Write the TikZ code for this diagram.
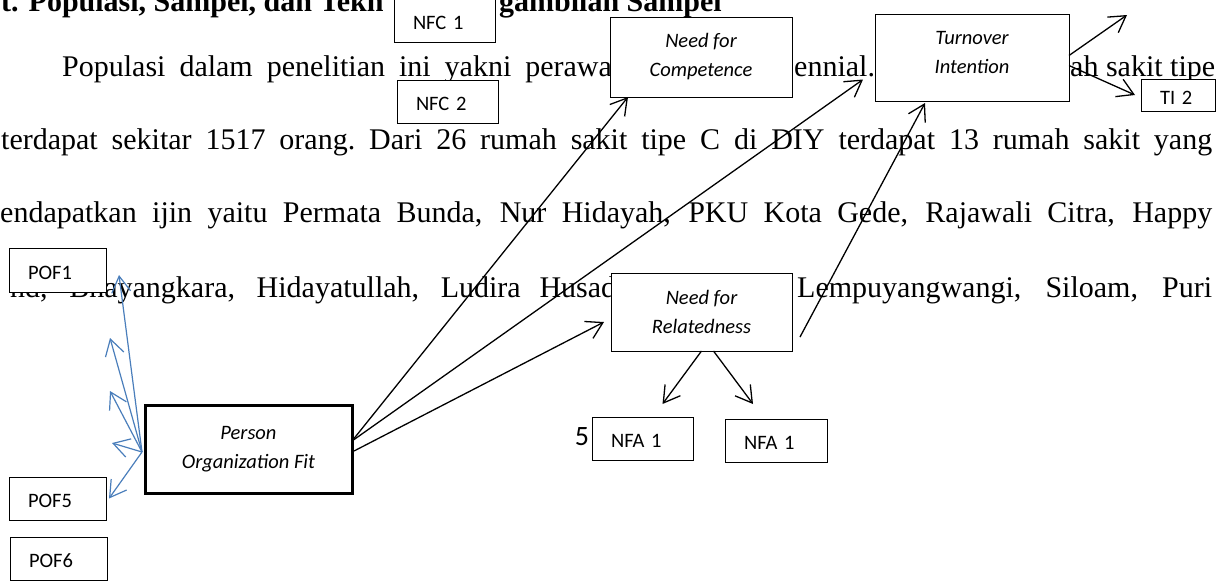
\documentclass[tikz,border=0pt]{standalone}
\usepackage{fontspec}
\setmainfont{Liberation Serif}
\newfontfamily\lblfont{Carlito}
\usetikzlibrary{arrows.meta}
\definecolor{pofblue}{HTML}{4A7EBB}
% one line of body text, spread to a given width
\newcommand\jline[2]{\hbox to #1{\spaceskip=.25em plus 1fil\xspaceskip=.25em plus 1fil\relax #2}}

\begin{document}
\begin{tikzpicture}[x=1pt,y=-1pt,
    body/.style={inner sep=0pt, anchor=base west, font=\fontsize{30}{36}\selectfont},
    head/.style={body, font=\fontsize{30}{36}\selectfont\bfseries},
    smallbox/.style={draw, fill=white, line width=1pt, outer sep=0pt, anchor=north west,
        inner xsep=19pt, inner ysep=0pt, align=left, text height=18pt, text depth=0pt,
        font=\lblfont\fontsize{20.5}{24}\selectfont},
    bigbox/.style={draw, fill=white, line width=1pt, outer sep=0pt, anchor=north west,
        align=center, font=\lblfont\itshape\fontsize{20.5}{29}\selectfont},
    link/.style={-{Straight Barb[length=16pt,width=19pt]}, line width=1.3pt},
    bluelink/.style={link, pofblue, line width=1.2pt}]
    \useasboundingbox (0,0) rectangle (1217,582);

    % page text behind the model
    \node[head] (headA) at (1,11) {t. Populasi, Sampel, dan Tekn};
    \node[head] (headB) at (499,11) {gambilan Sampel};
    \node[body] (lineA) at (62,76) {\jline{558pt}{Populasi dalam penelitian ini yakni perawat}};
    \node[body] (lineB) at (794,76) {ennial.};
    \node[body] (lineC) at (1070,76) {ah sakit tipe};
    \node[body] (lineD) at (1,149) {\jline{1211pt}{terdapat sekitar 1517 orang. Dari 26 rumah sakit tipe C di DIY terdapat 13 rumah sakit yang}};
    \node[body] (lineE) at (0,222) {\jline{1212pt}{endapatkan ijin yaitu Permata Bunda, Nur Hidayah, PKU Kota Gede, Rajawali Citra, Happy}};
    \node[body] (lineF) at (10,297) {\jline{606pt}{nd, Bhayangkara, Hidayatullah, Ludira Husad}};
    \node[body] (lineG) at (797,297) {\jline{415pt}{Lempuyangwangi, Siloam, Puri}};

    % variables
    \node[bigbox, minimum width=182pt, minimum height=80pt] (comp) at (610,17) {Need for\\Competence};
    \node[bigbox, minimum width=194pt, minimum height=87pt, text depth=10pt] (turn) at (875,14) {Turnover\\Intention};
    \node[bigbox, minimum width=181pt, minimum height=78pt] (rel) at (611,273) {Need for\\Relatedness};
    \node[bigbox, line width=3pt, minimum width=207pt, minimum height=88pt] (pof) at (145,405) {Person\\Organization Fit};

    % indicators
    \node[smallbox, text width=63pt, minimum height=43pt] (nfcA) at (394,-1) {NFC 1};
    \node[smallbox, text width=63pt, minimum height=43pt] (nfcB) at (397,80) {NFC 2};
    \node[smallbox, text width=36pt, minimum height=32pt] (tiB) at (1141,79) {TI 2};
    \node[smallbox, text width=63pt, minimum height=43pt] (nfaA) at (592,417) {NFA 1};
    \node[smallbox, text width=64pt, minimum height=43pt] (nfaB) at (725,419) {NFA 1};
    \node[smallbox, text width=59pt, minimum height=44pt] (pofA) at (9,248) {POF1};
    \node[smallbox, text width=59pt, minimum height=43pt] (pofE) at (9,477) {POF5};
    \node[smallbox, text width=59pt, minimum height=43pt] (pofF) at (10,537) {POF6};
    \node[font=\lblfont\fontsize{28}{30}\selectfont, inner sep=0pt] (five) at (582,437) {5};

    \coordinate (tiOne) at (1127,15);
    \coordinate (pofB) at (110,338);
    \coordinate (pofC) at (110,391);
    \coordinate (pofD) at (112,443);

    % paths
    \draw[link] ([yshift=8pt]pof.east) -- ([xshift=18pt]comp.south west);
    \draw[link] ([yshift=8pt]pof.east) -- ([shift={(-12pt,-22pt)}]turn.west);
    \draw[link] ([shift={(2pt,-2pt)}]pof.east) -- ([shift={(-7pt,-10pt)}]rel.west);
    \draw[link] ([shift={(8pt,-25pt)}]rel.east) -- ([shift={(-47pt,-2pt)}]turn.south);
    \draw[link] (rel.south) -- ([shift={(20pt,13pt)}]nfaA.north);
    \draw[link] ([xshift=12pt]rel.south) -- ([shift={(-23pt,15pt)}]nfaB.north);
    \draw[link] ([yshift=2pt]turn.east) -- (tiOne);
    \draw[link] ([yshift=-8pt]turn.east) -- ([xshift=-6pt]tiB.west);

    % POF items
    \draw[bluelink] ([shift={(-3pt,-3pt)}]pof.west) -- ([shift={(13pt,-5pt)}]pofA.east);
    \foreach \t in {pofB,pofC,pofD}
        \draw[bluelink] ([shift={(-3pt,-3pt)}]pof.west) -- (\t);
    \draw[bluelink] ([shift={(-3pt,-3pt)}]pof.west) -- ([xshift=3pt]pofE.east);
\end{tikzpicture}
\end{document}
